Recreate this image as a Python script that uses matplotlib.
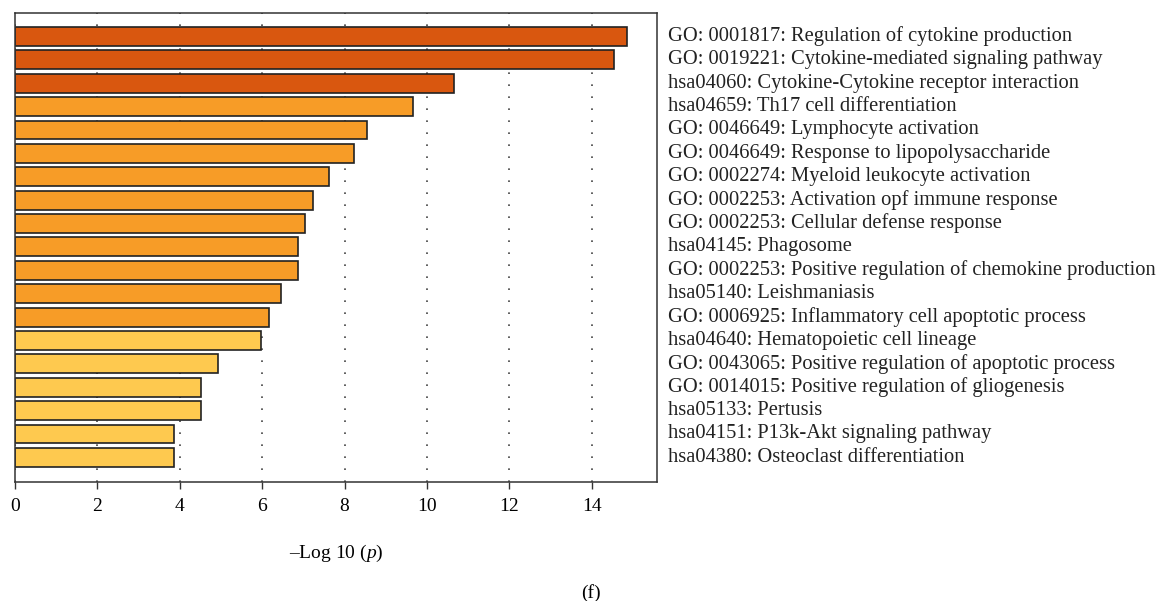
import matplotlib
matplotlib.use("Agg")
import matplotlib.pyplot as plt

plt.rcParams['font.family'] = ['Liberation Serif', 'DejaVu Serif']
plt.rcParams['mathtext.fontset'] = 'custom'
plt.rcParams['mathtext.rm'] = 'Liberation Serif'
plt.rcParams['mathtext.it'] = 'Liberation Serif:italic'

terms = [
    "GO: 0001817: Regulation of cytokine production",
    "GO: 0019221: Cytokine-mediated signaling pathway",
    "hsa04060: Cytokine-Cytokine receptor interaction",
    "hsa04659: Th17 cell differentiation",
    "GO: 0046649: Lymphocyte activation",
    "GO: 0046649: Response to lipopolysaccharide",
    "GO: 0002274: Myeloid leukocyte activation",
    "GO: 0002253: Activation opf immune response",
    "GO: 0002253: Cellular defense response",
    "hsa04145: Phagosome",
    "GO: 0002253: Positive regulation of chemokine production",
    "hsa05140: Leishmaniasis",
    "GO: 0006925: Inflammatory cell apoptotic process",
    "hsa04640: Hematopoietic cell lineage",
    "GO: 0043065: Positive regulation of apoptotic process",
    "GO: 0014015: Positive regulation of gliogenesis",
    "hsa05133: Pertusis",
    "hsa04151: P13k-Akt signaling pathway",
    "hsa04380: Osteoclast differentiation",
]
neglogp = [14.85, 14.55, 10.65, 9.65, 8.55, 8.24, 7.62, 7.24, 7.03, 6.88,
           6.88, 6.46, 6.16, 5.97, 4.92, 4.51, 4.51, 3.86, 3.86]
# colour group per bar: 0 = strongest, 1 = middle, 2 = weakest
group = [0, 0, 0, 1, 1, 1, 1, 1, 1, 1, 1, 1, 1, 2, 2, 2, 2, 2, 2]
palette = ["#D9570F", "#F79C27", "#FEC94F"]

fig = plt.figure(figsize=(11.72, 6.01), dpi=100)
ax = fig.add_axes([0.0128, 0.1985, 0.548, 0.7794])

ypos = list(range(len(terms)))
ax.barh(ypos, neglogp, height=0.81, color=[palette[g] for g in group],
        edgecolor="#222222", linewidth=1.2, zorder=2)

ax.set_xlim(0, 15.59)
ax.set_ylim(19.04, -0.99)
ax.set_xticks(range(0, 15, 2))
ax.set_yticks([])
ax.tick_params(axis='x', direction='out', length=5, width=1.0, color='#333333',
               labelsize=14, pad=7)
ax.grid(axis='x', color='#444444', linestyle=(0, (1, 6.2)), linewidth=1.2, zorder=0)
for s in ax.spines.values():
    s.set_color('#333333')
    s.set_linewidth(1.1)

for i, t in enumerate(terms):
    ax.text(1.016, i, t, transform=ax.get_yaxis_transform(), ha='left',
            va='center', fontsize=14.8, color='#222222')

ax.set_xlabel("–Log 10 ($\\mathit{p}$)", fontsize=14, labelpad=20)
fig.text(591 / 1172, 1 - 593 / 601, "(f)", ha='center', va='center', fontsize=14)

fig.savefig("out.png", dpi=100)
